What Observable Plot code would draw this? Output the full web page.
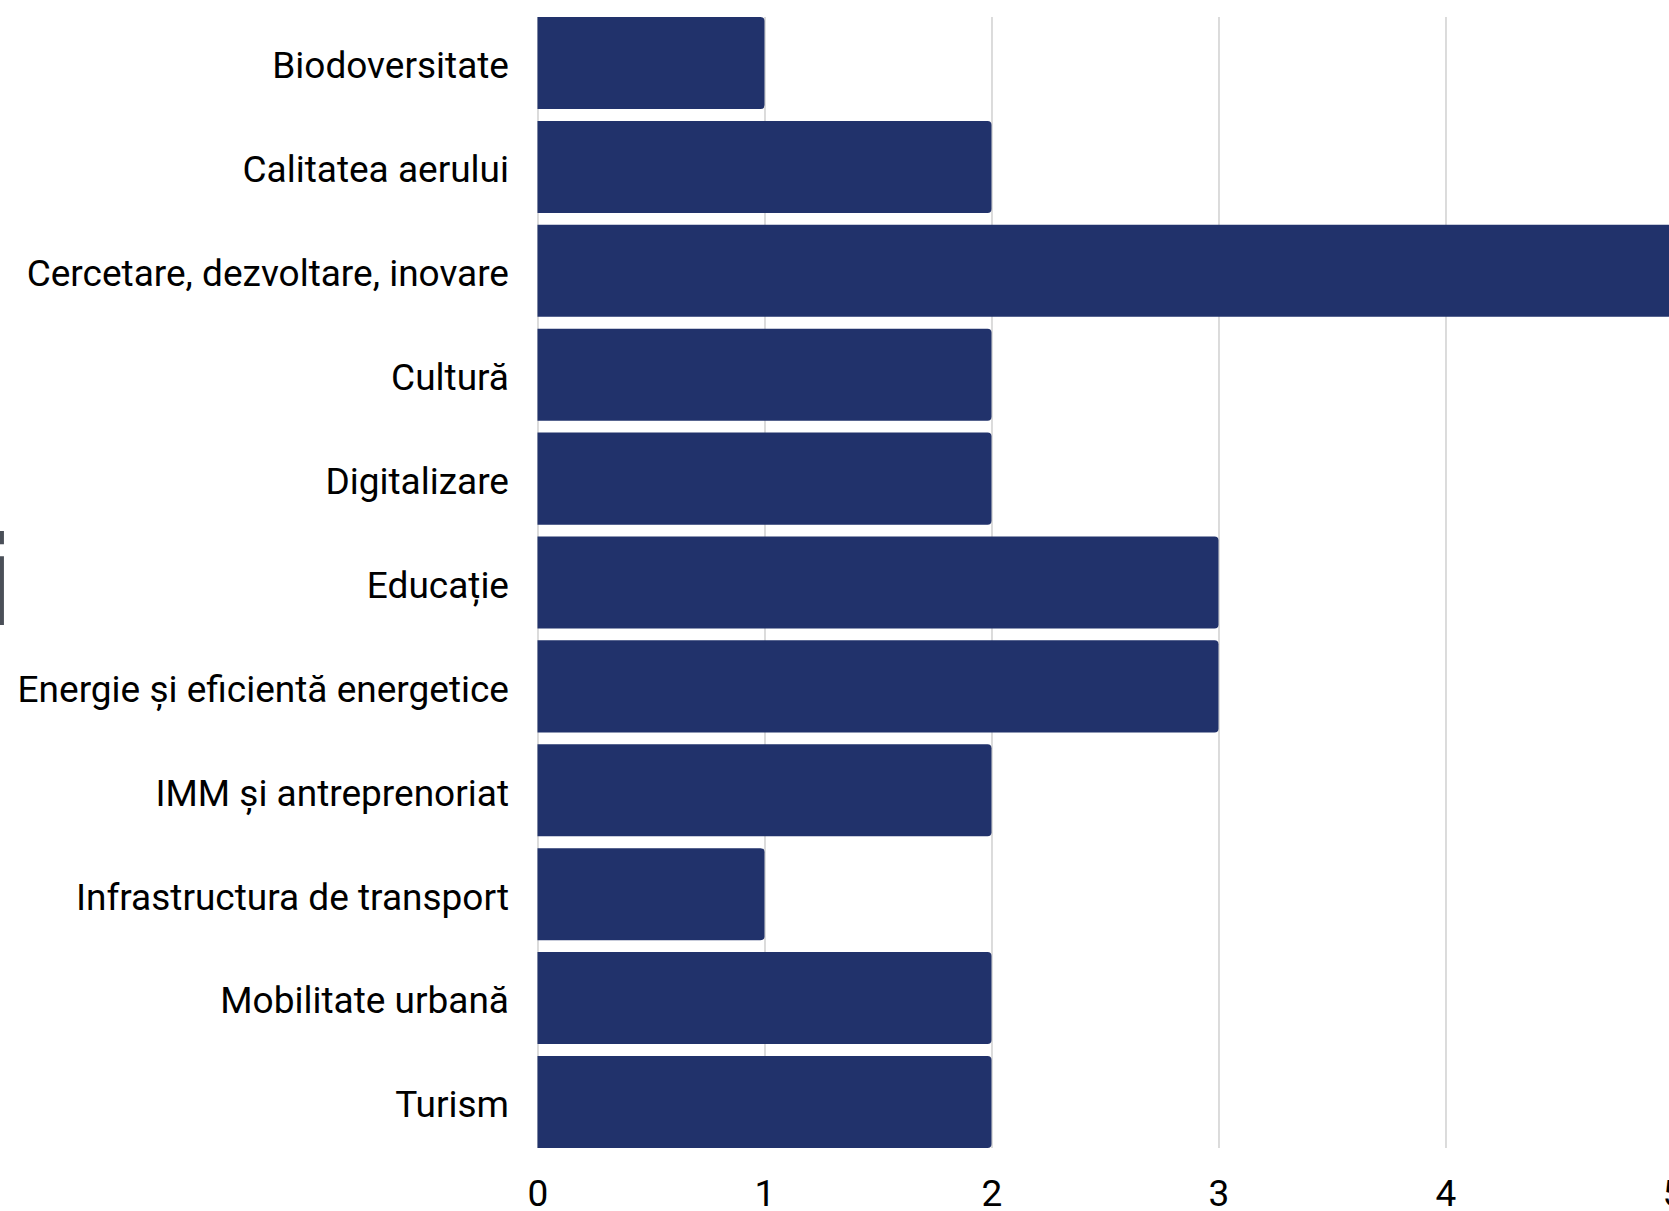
<!DOCTYPE html>
<html>
<head>
<meta charset="utf-8">
<script src="https://cdn.jsdelivr.net/npm/d3@7"></script>
<script src="https://cdn.jsdelivr.net/npm/@observablehq/plot@0.6"></script>
<style>
  html, body { margin: 0; padding: 0; background: #fff; overflow: hidden; width: 1669px; height: 1211px; }
  #chart { position: absolute; left: 0; top: 0; width: 1700px; }
  #chart svg { max-width: none !important; }
  #mark { position: absolute; left: 0; top: 0; pointer-events: none; }
</style>
</head>
<body>
<div id="chart"></div>
<svg id="mark" width="1669" height="1211"><text x="-23" y="625" font-family="Liberation Sans, Arial, sans-serif" font-weight="bold" font-size="130" fill="#4a4f58">i</text></svg>
<script>
const categories = [
  "Biodoversitate",
  "Calitatea aerului",
  "Cercetare, dezvoltare, inovare",
  "Cultură",
  "Digitalizare",
  "Educație",
  "Energie și eficientă energetice",
  "IMM și antreprenoriat",
  "Infrastructura de transport",
  "Mobilitate urbană",
  "Turism"
];
const values = [1, 2, 5, 2, 2, 3, 3, 2, 1, 2, 2];
const xTicks = [0, 1, 2, 3, 4, 5];

const data = categories.map((c, i) => ({category: c, value: values[i]}));

const chart = Plot.plot({
  width: 1700,
  height: 1211,
  marginLeft: 537.5,
  marginRight: 27.5,
  marginTop: 17,
  marginBottom: 63,
  style: {fontFamily: "Roboto, 'Liberation Sans', sans-serif", fontSize: "37px", color: "#000", background: "transparent", maxWidth: "none"},
  x: {domain: [0, 5]},
  y: {domain: categories, paddingInner: 0.114, paddingOuter: 0, round: false},
  marks: [
    Plot.gridX(xTicks, {stroke: "#c4c4c4", strokeOpacity: 1, strokeWidth: 1.2}),
    Plot.barX(data, {y: "category", x: "value", fill: "#21326b", rx2: 4}),
    Plot.axisY({tickSize: 0, tickPadding: 29, dy: 3, label: null}),
    Plot.axisX(xTicks, {tickSize: 0, tickPadding: 31, label: null, tickFormat: d => String(d)})
  ]
});
document.getElementById("chart").appendChild(chart);
</script>
</body>
</html>
